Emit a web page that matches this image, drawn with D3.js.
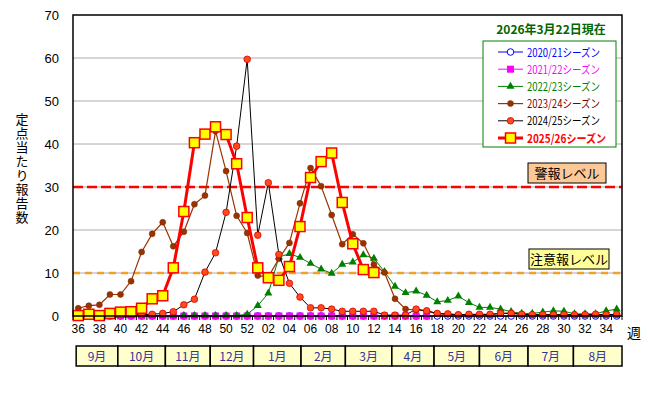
<!DOCTYPE html>
<html lang="ja">
<head>
<meta charset="UTF-8">
<title>定点当たり報告数</title>
<script src="https://d3js.org/d3.v7.min.js"></script>
<style>
    body { margin: 0; background: #fff; }
    svg text { font-family: "Liberation Sans", Arial, sans-serif; }
    .jp { font-family: "Noto Sans CJK JP", sans-serif; }
</style>
</head>
<body>
<svg id="chart" width="650" height="393"></svg>
<script>
// weeks 36..52 then 01..35
const weeks = ["36","37","38","39","40","41","42","43","44","45","46","47","48","49","50","51","52",
    "01","02","03","04","05","06","07","08","09","10","11","12","13","14","15","16","17","18","19","20",
    "21","22","23","24","25","26","27","28","29","30","31","32","33","34","35"];
const weekLabels = ["36","38","40","42","44","46","48","50","52","02","04","06","08","10","12","14","16",
    "18","20","22","24","26","28","30","32","34"];

const s2020_21 = [0,0,0,0,0,0,0,0,0,0,0,0,0,0,0,0,0,
    0,0,0,0,0,0,0,0,0,0,0,0,0,0,0,0,0,0,0,0,0,0,0,0,0,0,0,0,0,0,0,0,0,0,0];
const s2021_22 = [0,0,0,0,0,0,0,0,0,0,0,0,0,0,0,0,0,
    0,0,0,0,0,0,0,0,0,0,0,0,0,0,0,0,0];
const s2022_23 = [0.1,0.1,0.1,0.1,0.1,0.1,0.1,0.1,0.1,0.1,0.1,0.1,0.1,0.1,0.1,0.1,0.4,
    2.4,5.3,13.7,14.5,13.6,12.2,10.9,9.9,12.0,12.5,14.2,13.4,10.3,6.9,5.4,5.8,4.8,3.3,3.6,4.6,
    3.1,2.0,2.0,1.6,1.0,0.6,0.6,0.9,1.2,1.1,0.5,0.5,0.5,1.2,1.6];
const s2023_24 = [1.8,2.4,2.6,5.0,5.0,8.1,14.9,19.1,21.8,16.2,19.6,26.0,28.0,43.0,33.7,23.3,19.3,
    9.4,9.1,13.3,17.0,26.2,34.4,30.2,23.5,16.7,19.0,16.9,12.0,10.1,4.0,1.6,1.4,1.2,0.5,0.4,0.3,
    0.3,0.3,0.3,0.6,0.7,0.4,0.3,0.3,0.3,0.3,0.3,0.3,0.3,0.3,0.3];
const s2024_25 = [0.2,0.2,0.2,0.2,0.3,0.4,0.3,0.4,0.6,1.0,2.6,3.9,10.2,14.7,24.1,39.5,59.7,
    18.8,31.0,14.3,7.6,4.4,1.9,1.9,1.6,1.1,1.1,1.1,1.1,0.2,0.2,0.2,1.6,1.2,0.6,0.5,0.3,
    0.4,0.4,0.4,0.6,0.6,0.4,0.3,0.3,0.3,0.3,0.3,0.3,0.4,0.3,0.4];
const s2025_26 = [0.1,0.4,0.1,0.6,0.9,1.0,1.8,4.0,4.7,11.2,24.3,40.3,42.3,44.0,42.2,35.4,22.9,
    11.2,8.9,8.3,11.5,20.8,32.2,35.9,37.9,26.4,16.8,10.8,10.1];

const yTicks = [0,10,20,30,40,50,60,70];
const alertLevel = 30;
const warnLevel = 10;

// month spans, in week positions (0 = left edge of week 36)
const months = ["9月","10月","11月","12月","1月","2月","3月","4月","5月","6月","7月","8月"];
const monthEdges = [0.3,4.25,8.75,13,17.1,21.6,25.8,30.2,34.2,38.5,43.1,47.4,52];

const series = [
    {name: "2020/21シーズン", values: s2020_21, color: "#0000ff", text: "#0000ff", width: 1, marker: "openCircle"},
    {name: "2021/22シーズン", values: s2021_22, color: "#ff00ff", text: "#ff00ff", width: 1, marker: "square"},
    {name: "2022/23シーズン", values: s2022_23, color: "#008000", text: "#008000", width: 1, marker: "triangle"},
    {name: "2023/24シーズン", values: s2023_24, color: "#993300", text: "#800000", width: 1.2, marker: "dot"},
    {name: "2024/25シーズン", values: s2024_25, color: "#000000", text: "#000000", width: 1, marker: "redDot"},
    {name: "2025/26シーズン", values: s2025_26, color: "#ff0000", text: "#ff0000", width: 3, marker: "bigSquare", bold: true}
];

const svg = d3.select("#chart");
const plotLeft = 73, plotRight = 622, plotTop = 15, plotBottom = 316;

const x = d3.scalePoint().domain(weeks).range([plotLeft, plotRight]).padding(0.5);
const step = x.step();
const y = d3.scaleLinear().domain([0, 70]).range([plotBottom, plotTop]);

// grid
svg.append("g").selectAll("line")
    .data(yTicks.filter(d => d > 0 && d < 70))
    .enter().append("line")
    .attr("x1", plotLeft).attr("x2", plotRight)
    .attr("y1", d => y(d)).attr("y2", d => y(d))
    .attr("stroke", "#b0a8b0").attr("stroke-width", 1);

// y tick labels
svg.append("g").selectAll("text")
    .data(yTicks)
    .enter().append("text")
    .attr("x", 59).attr("y", d => y(d) + 5)
    .attr("text-anchor", "end")
    .attr("font-size", 13)
    .text(d => d);

// y title, written top to bottom
svg.append("text")
    .attr("class", "jp")
    .attr("x", 22).attr("y", 113)
    .style("writing-mode", "vertical-rl")
    .attr("font-size", 13)
    .attr("letter-spacing", 1)
    .text("定点当たり報告数");

// level lines
svg.append("line")
    .attr("x1", plotLeft).attr("x2", plotRight)
    .attr("y1", y(alertLevel)).attr("y2", y(alertLevel))
    .attr("stroke", "#ff0000").attr("stroke-width", 2.5)
    .attr("stroke-dasharray", "10,4");
svg.append("line")
    .attr("x1", plotLeft).attr("x2", plotRight)
    .attr("y1", y(warnLevel)).attr("y2", y(warnLevel))
    .attr("stroke", "#f5a020").attr("stroke-width", 2.5)
    .attr("stroke-dasharray", "7,5");

// level labels
function levelBox(label, x0, x1, y0, fill) {
    svg.append("rect")
        .attr("x", x0).attr("y", y0).attr("width", x1 - x0).attr("height", 20)
        .attr("fill", fill).attr("stroke", "#000").attr("stroke-width", 1);
    svg.append("text")
        .attr("class", "jp")
        .attr("x", (x0 + x1) / 2).attr("y", y0 + 15)
        .attr("text-anchor", "middle")
        .attr("font-size", 13)
        .text(label);
}
levelBox("警報レベル", 528, 606, 163, "#fcc898");
levelBox("注意報レベル", 529, 609, 249, "#ffff99");

// series
const line = d3.line()
    .defined(d => d != null)
    .x((d, i) => x(weeks[i]))
    .y(d => y(d));

function drawMarker(g, type, cx, cy) {
    if (type === "openCircle") {
        g.append("circle").attr("cx", cx).attr("cy", cy).attr("r", 3.3)
            .attr("fill", "#fff").attr("stroke", "#0000ff").attr("stroke-width", 1);
    } else if (type === "square") {
        g.append("rect").attr("x", cx - 3.5).attr("y", cy - 3.5).attr("width", 7).attr("height", 7)
            .attr("fill", "#ff00ff");
    } else if (type === "triangle") {
        g.append("path").attr("transform", `translate(${cx},${cy})`)
            .attr("d", d3.symbol(d3.symbolTriangle, 28)())
            .attr("fill", "#008000");
    } else if (type === "dot") {
        g.append("circle").attr("cx", cx).attr("cy", cy).attr("r", 3)
            .attr("fill", "#993300").attr("stroke", "#7a2800").attr("stroke-width", 0.5);
    } else if (type === "redDot") {
        g.append("circle").attr("cx", cx).attr("cy", cy).attr("r", 3.3)
            .attr("fill", "#ff4a1a").attr("stroke", "#e00000").attr("stroke-width", 0.8);
    } else if (type === "bigSquare") {
        g.append("rect").attr("x", cx - 5).attr("y", cy - 5).attr("width", 10).attr("height", 10)
            .attr("fill", "#ffff00").attr("stroke", "#ff0000").attr("stroke-width", 1.5);
    }
}

series.forEach(s => {
    const g = svg.append("g");
    g.append("path")
        .datum(s.values)
        .attr("d", line)
        .attr("fill", "none")
        .attr("stroke", s.color)
        .attr("stroke-width", s.width)
        .attr("stroke-linejoin", "round");
    s.values.forEach((v, i) => {
        if (v != null) drawMarker(g, s.marker, x(weeks[i]), y(v));
    });
});

// frame
svg.append("rect")
    .attr("x", plotLeft).attr("y", plotTop)
    .attr("width", plotRight - plotLeft).attr("height", plotBottom - plotTop)
    .attr("fill", "none").attr("stroke", "#000").attr("stroke-width", 1.5);

// x ticks (between categories)
svg.append("g").selectAll("line")
    .data(d3.range(weeks.length + 1))
    .enter().append("line")
    .attr("x1", i => plotLeft + i * step).attr("x2", i => plotLeft + i * step)
    .attr("y1", plotBottom).attr("y2", plotBottom + 4)
    .attr("stroke", "#000").attr("stroke-width", 1);

svg.append("g").selectAll("text")
    .data(weekLabels)
    .enter().append("text")
    .attr("x", d => x(d)).attr("y", 333)
    .attr("text-anchor", "middle")
    .attr("font-size", 12)
    .text(d => d);

svg.append("text")
    .attr("class", "jp")
    .attr("x", 634).attr("y", 338)
    .attr("text-anchor", "middle")
    .attr("font-size", 14)
    .text("週");

// month row
const mg = svg.append("g");
months.forEach((m, i) => {
    const x0 = plotLeft + monthEdges[i] * step;
    const x1 = plotLeft + monthEdges[i + 1] * step;
    mg.append("rect")
        .attr("x", x0).attr("y", 346).attr("width", x1 - x0).attr("height", 20)
        .attr("fill", "#ffffcc").attr("stroke", "#000").attr("stroke-width", 1.5);
    mg.append("text")
        .attr("class", "jp")
        .attr("x", (x0 + x1) / 2).attr("y", 361)
        .attr("text-anchor", "middle")
        .attr("font-size", 12)
        .attr("fill", "#333399")
        .text(m);
});

// title + legend
svg.append("text")
    .attr("class", "jp")
    .attr("x", 551).attr("y", 34)
    .attr("text-anchor", "middle")
    .attr("font-size", 12)
    .attr("font-weight", "bold")
    .attr("fill", "#006600")
    .text("2026年3月22日現在");

svg.append("rect")
    .attr("x", 483).attr("y", 41).attr("width", 133).attr("height", 106)
    .attr("fill", "#fff").attr("stroke", "#008000").attr("stroke-width", 1);

series.forEach((s, i) => {
    const ly = 52 + i * 17.2;
    const g = svg.append("g");
    g.append("line")
        .attr("x1", 498).attr("x2", 523).attr("y1", ly).attr("y2", ly)
        .attr("stroke", s.color).attr("stroke-width", s.width);
    drawMarker(g, s.marker, 510.5, ly);
    g.append("text")
        .attr("class", "jp")
        .attr("x", 527).attr("y", ly + 4.5)
        .attr("font-size", 11.5)
        .attr("font-weight", s.bold ? "bold" : "normal")
        .attr("fill", s.text)
        .attr("textLength", s.bold ? 79 : 73)
        .attr("lengthAdjust", "spacingAndGlyphs")
        .text(s.name);
});
</script>
</body>
</html>
